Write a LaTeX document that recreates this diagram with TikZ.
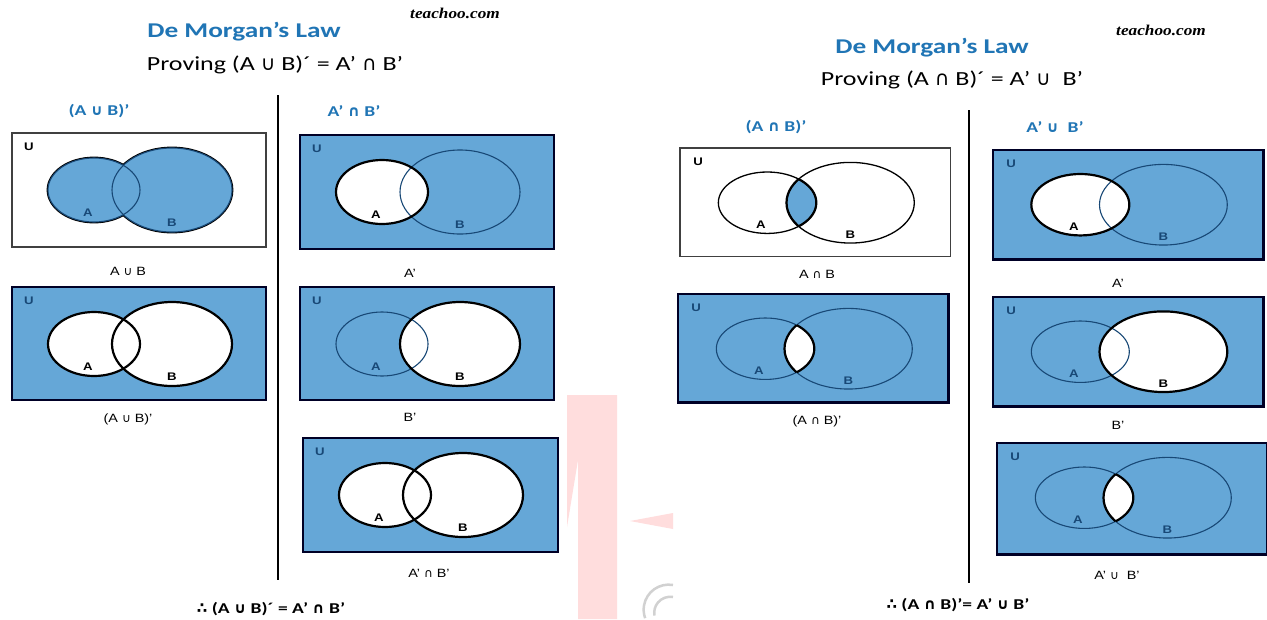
\documentclass[tikz,border=0pt]{standalone}
\usepackage{fontspec}
\usepackage{amssymb}
\setmainfont{Carlito}[FakeStretch=1.3]
\newfontfamily\arialfont{Liberation Sans}[FakeStretch=1.2]
\newfontfamily\logofont{Liberation Serif}[FakeStretch=1.15]
\newfontfamily\symfont{DejaVu Sans}

\definecolor{vennblue}{RGB}{101,167,215}
\definecolor{vennnavy}{RGB}{24,72,118}
\definecolor{headblue}{RGB}{32,117,181}
\definecolor{wmpink}{RGB}{255,221,221}

\newcommand{\cupsym}{{\symfont ∪}}
\newcommand{\capsym}{{\symfont ∩}}
\newcommand{\thussym}{{\symfont ∴}}

% the two sets, in the coordinates of one box (254 x 114)
\newcommand{\ellA}{(82,57) ellipse [x radius=46, y radius=32]}
\newcommand{\ellB}{(160,57) ellipse [x radius=60, y radius=42]}

\tikzset{
  whitebox/.style={draw=black!75, line width=1.4pt, fill=white},
  bluebox/.style={draw=black!85!blue, line width=2.4pt, fill=vennblue},
  boldrim/.style={draw=black, line width=2.2pt},
  thinrim/.style={draw=vennnavy, line width=1.1pt},
  setname/.style={font=\arialfont\bfseries\fontsize{11}{11}\selectfont, inner sep=0pt},
  venncap/.style={font=\arialfont\fontsize{12}{12}\selectfont, inner sep=0pt},
  colhead/.style={font=\bfseries\fontsize{15}{15}\selectfont, text=headblue, inner sep=0pt},
  lawtitle/.style={font=\bfseries\fontsize{21}{21}\selectfont, text=headblue, inner sep=0pt},
  proving/.style={font=\fontsize{20}{20}\selectfont, inner sep=0pt},
  result/.style={font=\bfseries\fontsize{15}{15}\selectfont, inner sep=0pt},
  logo/.style={font=\logofont\bfseries\itshape\fontsize{15}{15}\selectfont, inner sep=0pt},
}

\newcommand{\setnames}[4]{%
  \node[setname, text=#2] (#1u) at (17,14) {U};
  \node[setname, text=#3] (#1a) at (76,80) {A};
  \node[setname, text=#4] (#1b) at (160,90) {B};}

\newcommand{\lensrim}{%
  \begin{scope} \clip \ellA; \draw[boldrim] \ellB; \end{scope}
  \begin{scope} \clip \ellB; \draw[boldrim] \ellA; \end{scope}}

\begin{document}
\begin{tikzpicture}[x=1pt, y=-1pt]
\useasboundingbox[fill=white] (0,0) rectangle (1267,619);

% watermark in the middle
\fill[wmpink] (567,395) -- (617,395) -- (617,619) -- (578,619) -- (578,460) -- (567,527) -- cycle;
\fill[wmpink] (630,521) -- (673,513) -- (673,529) -- cycle;
\draw[black!18, line width=2.5pt] (673,585) arc[start angle=-80, end angle=-200, radius=25];
\draw[black!18, line width=2.5pt] (673,597) arc[start angle=-80, end angle=-190, radius=16];

% left half: (A u B)' = A' n B'
\node[logo] (llogo) at (455,13) {teachoo.com};
\node[lawtitle] (ltitle) at (244,32) {De Morgan’s Law};
\node[proving] (lproving) at (275,65) {Proving (A \cupsym\ B)´ = A’ \capsym\ B’};
\node[colhead] (lhead1) at (99,111) {(A \cupsym\ B)’};
\node[colhead] (lhead2) at (354,111) {A’ \capsym\ B’};
\coordinate (ltop) at (278,95);
\coordinate (lbot) at (278,580);
\draw[line width=1.8pt] (ltop) -- (lbot);

\begin{scope}[shift={(12,133)}]
\draw[whitebox] (0,0) rectangle (254,114);
\draw[line width=2.8pt] \ellA; \draw[line width=2.8pt] \ellB;
\fill[vennblue] \ellA; \fill[vennblue] \ellB;
\draw[thinrim] \ellA; \draw[thinrim] \ellB;
\setnames{la}{black}{vennnavy}{vennnavy}
\end{scope}
\node[venncap] (lcap1) at (128,271) {A \cupsym\ B};

\begin{scope}[shift={(12,287)}]
\draw[bluebox] (0,0) rectangle (254,113);
\fill[white] \ellA; \fill[white] \ellB;
\draw[boldrim] \ellA; \draw[boldrim] \ellB;
\setnames{lb}{vennnavy}{black}{black}
\end{scope}
\node[venncap] (lcap2) at (128,419) {(A \cupsym\ B)’};

\begin{scope}[shift={(300,135)}]
\draw[bluebox] (0,0) rectangle (254,114);
\fill[white] \ellA;
\draw[thinrim] \ellB;
\draw[boldrim] \ellA;
\setnames{lc}{vennnavy}{black}{vennnavy}
\end{scope}
\node[venncap] (lcap3) at (410,273) {A’};

\begin{scope}[shift={(300,287)}]
\draw[bluebox] (0,0) rectangle (254,113);
\fill[white] \ellB;
\draw[thinrim] \ellA;
\draw[boldrim] \ellB;
\setnames{ld}{vennnavy}{vennnavy}{black}
\end{scope}
\node[venncap] (lcap4) at (410,417) {B’};

\begin{scope}[shift={(303,438)}]
\draw[bluebox] (0,0) rectangle (255,114);
\fill[white] \ellA; \fill[white] \ellB;
\draw[boldrim] \ellA; \draw[boldrim] \ellB;
\setnames{le}{vennnavy}{black}{black}
\end{scope}
\node[venncap] (lcap5) at (429,573) {A’ \capsym\ B’};

\node[result] (lresult) at (271,609) {\thussym\ (A \cupsym\ B)´ = A’ \capsym\ B’};

% right half: (A n B)' = A' u B'
\node[logo] (rlogo) at (1161,30) {teachoo.com};
\node[lawtitle] (rtitle) at (932,48) {De Morgan’s Law};
\node[proving] (rproving) at (952,80) {Proving (A \capsym\ B)´ = A’ \cupsym\ \ B’};
\node[colhead] (rhead1) at (776,127) {(A \capsym\ B)’};
\node[colhead] (rhead2) at (1055,127) {A’ \cupsym\ \ B’};
\coordinate (rtop) at (969,110);
\coordinate (rbot) at (969,583);
\draw[line width=1.8pt] (rtop) -- (rbot);

\begin{scope}[shift={(680,148)}, xscale=1.065, yscale=0.96]
\draw[whitebox] (0,0) rectangle (254,113);
\begin{scope} \clip \ellA; \fill[vennblue] \ellB; \end{scope}
\draw[black, line width=1.3pt] \ellA; \draw[black, line width=1.3pt] \ellB;
\lensrim
\setnames{ra}{black}{black}{black}
\end{scope}
\node[venncap] (rcap1) at (817,274) {A \capsym\ B};

\begin{scope}[shift={(678,294)}, xscale=1.065, yscale=0.96]
\draw[bluebox] (0,0) rectangle (254,113);
\begin{scope} \clip \ellA; \fill[white] \ellB; \end{scope}
\draw[thinrim] \ellA; \draw[thinrim] \ellB;
\lensrim
\setnames{rb}{vennnavy}{vennnavy}{vennnavy}
\end{scope}
\node[venncap] (rcap2) at (817,421) {(A \capsym\ B)’};

\begin{scope}[shift={(993,150)}, xscale=1.065, yscale=0.96]
\draw[bluebox] (0,0) rectangle (254,114);
\fill[white] \ellA;
\draw[thinrim] \ellB;
\draw[boldrim] \ellA;
\setnames{rc}{vennnavy}{black}{vennnavy}
\end{scope}
\node[venncap] (rcap3) at (1118,283) {A’};

\begin{scope}[shift={(993,297)}, xscale=1.065, yscale=0.96]
\draw[bluebox] (0,0) rectangle (254,114);
\fill[white] \ellB;
\draw[thinrim] \ellA;
\draw[boldrim] \ellB;
\setnames{rd}{vennnavy}{vennnavy}{black}
\end{scope}
\node[venncap] (rcap4) at (1118,425) {B’};

\begin{scope}[shift={(997,443)}, xscale=1.065, yscale=0.96]
\draw[bluebox] (0,0) rectangle (254,116);
\begin{scope} \clip \ellA; \fill[white] \ellB; \end{scope}
\draw[thinrim] \ellA; \draw[thinrim] \ellB;
\lensrim
\setnames{re}{vennnavy}{vennnavy}{vennnavy}
\end{scope}
\node[venncap] (rcap5) at (1117,575) {A’ \cupsym\ \ B’};

\node[result] (rresult) at (958,605) {\thussym\ (A \capsym\ B)’= A’ \cupsym\ B’};
\end{tikzpicture}
\end{document}
